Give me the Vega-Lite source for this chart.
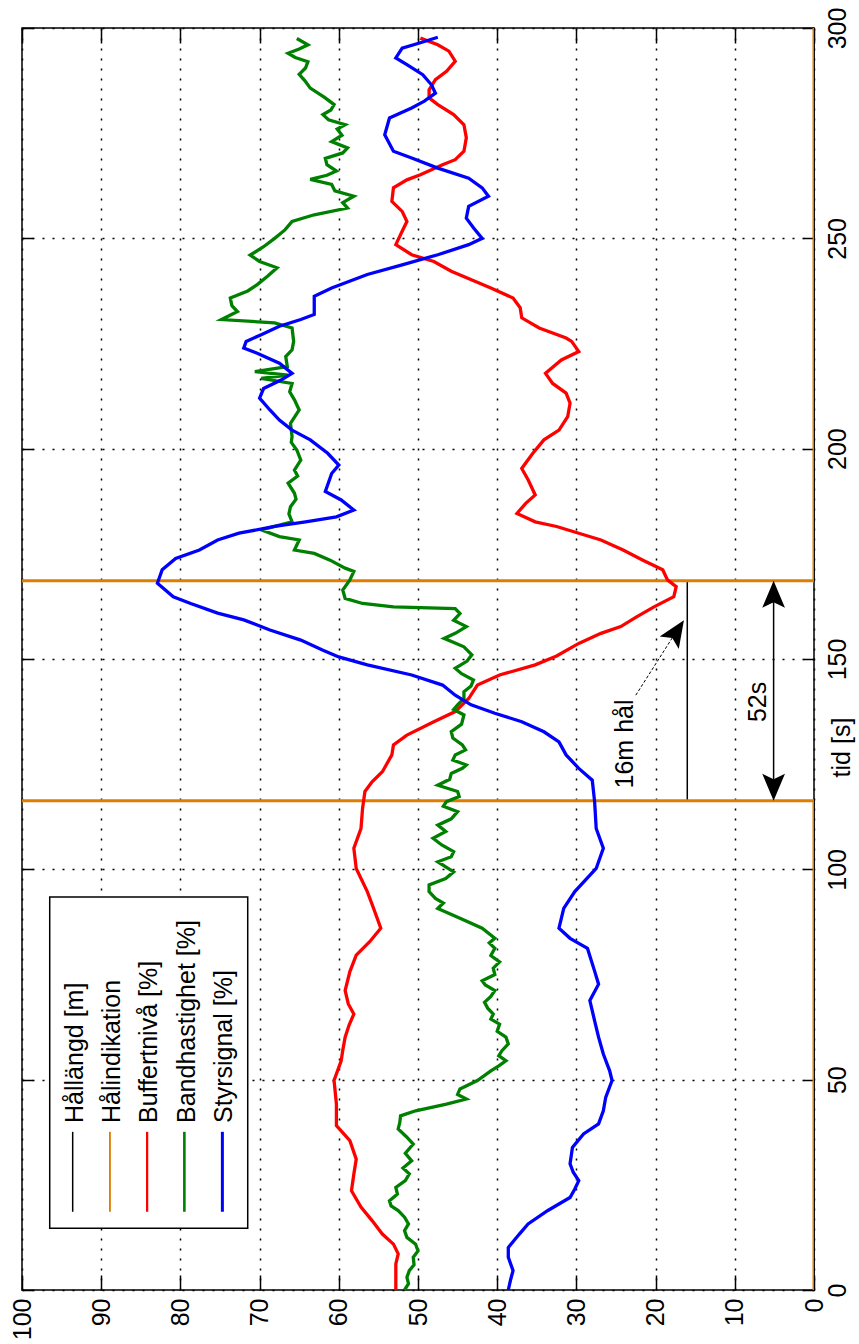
{
  "$schema": "https://vega.github.io/schema/vega-lite/v6.json",
  "width": 792,
  "height": 1262,
  "autosize": {"type": "none"},
  "padding": {"left": 22, "top": 28, "right": 45, "bottom": 54},
  "background": "white",
  "config": {
    "font": "Liberation Sans",
    "view": {"stroke": "black", "strokeWidth": 1.5},
    "axis": {
      "labelFont": "Liberation Sans",
      "labelFontSize": 25,
      "labelColor": "black",
      "tickColor": "black",
      "tickWidth": 1.5,
      "gridColor": "black",
      "gridDash": [2, 8],
      "gridWidth": 1.5,
      "gridOpacity": 1,
      "domain": false,
      "labelFlush": false,
      "labelOverlap": false
    }
  },
  "datasets": {
    "halind": [
      {"i": 0, "t": 0, "v": 0}, {"i": 1, "t": 116.3, "v": 0}, {"i": 2, "t": 116.3, "v": 103},
      {"i": 3, "t": 168.6, "v": 103}, {"i": 4, "t": 168.6, "v": 0}, {"i": 5, "t": 300, "v": 0}
    ],
    "hallangd": [
      {"i": 0, "t": 0, "v": 0}, {"i": 1, "t": 116.3, "v": 0}, {"i": 2, "t": 116.3, "v": 16},
      {"i": 3, "t": 168.6, "v": 16}, {"i": 4, "t": 168.6, "v": 0}, {"i": 5, "t": 300, "v": 0}
    ],
    "red": [
      {"t": 0, "v": 52.8}, {"t": 3, "v": 52.8}, {"t": 6.2, "v": 52.8}, {"t": 8.6, "v": 52.5}, {"t": 10.9, "v": 53.1},
      {"t": 13.3, "v": 54.5}, {"t": 16.5, "v": 55.8}, {"t": 19.7, "v": 57.2}, {"t": 23.6, "v": 58.4}, {"t": 27.6, "v": 58.1},
      {"t": 31.1, "v": 57.8}, {"t": 35.5, "v": 58.6}, {"t": 39.1, "v": 60.3}, {"t": 44.2, "v": 60.3}, {"t": 49.8, "v": 60.6},
      {"t": 54.5, "v": 59.7}, {"t": 57, "v": 59.5}, {"t": 60.1, "v": 59.2}, {"t": 63, "v": 58.7}, {"t": 65.6, "v": 58.1},
      {"t": 68, "v": 58.8}, {"t": 71.2, "v": 59.2}, {"t": 75.7, "v": 58.6}, {"t": 79.6, "v": 57.8}, {"t": 82.8, "v": 56.1},
      {"t": 86, "v": 54.7}, {"t": 90.7, "v": 55.6}, {"t": 94.7, "v": 56.4}, {"t": 100.2, "v": 57.8}, {"t": 105, "v": 58.1},
      {"t": 109.7, "v": 57.2}, {"t": 114.5, "v": 57}, {"t": 118.5, "v": 56.7}, {"t": 120.8, "v": 55.8}, {"t": 123.2, "v": 54.5},
      {"t": 127.2, "v": 53.3}, {"t": 129.6, "v": 53.1}, {"t": 131.9, "v": 51.4}, {"t": 135.1, "v": 48}, {"t": 137.5, "v": 45.3},
      {"t": 140.6, "v": 43.6}, {"t": 143.8, "v": 42.5}, {"t": 146.2, "v": 39.7}, {"t": 148.6, "v": 35.2}, {"t": 150.7, "v": 32.5},
      {"t": 153.7, "v": 29.7}, {"t": 156.1, "v": 26.9}, {"t": 157.7, "v": 24.4}, {"t": 160, "v": 22.4}, {"t": 162.4, "v": 20.2},
      {"t": 164.8, "v": 17.7}, {"t": 167.2, "v": 17.4}, {"t": 168.8, "v": 18.5}, {"t": 171.2, "v": 19.1}, {"t": 173.5, "v": 21.6},
      {"t": 175.9, "v": 24.1}, {"t": 178.3, "v": 26.9}, {"t": 179.9, "v": 29.7}, {"t": 181.5, "v": 32.5}, {"t": 182.6, "v": 35.2},
      {"t": 184.6, "v": 37.5}, {"t": 187, "v": 36.4}, {"t": 189, "v": 35.2}, {"t": 192.6, "v": 36.1}, {"t": 195.3, "v": 36.9},
      {"t": 198.9, "v": 35.5}, {"t": 202.1, "v": 34.1}, {"t": 204.4, "v": 32.2}, {"t": 207.6, "v": 31.1}, {"t": 210.8, "v": 30.8},
      {"t": 213.2, "v": 31.3}, {"t": 215.5, "v": 33}, {"t": 217.9, "v": 33.9}, {"t": 221.1, "v": 31.9}, {"t": 223.1, "v": 29.7},
      {"t": 225.5, "v": 30.6}, {"t": 226.3, "v": 31.3}, {"t": 228.7, "v": 34.7}, {"t": 231.1, "v": 36.9}, {"t": 233.5, "v": 37.1},
      {"t": 235.8, "v": 38}, {"t": 238.2, "v": 40.8}, {"t": 242.2, "v": 45.8}, {"t": 244.5, "v": 48}, {"t": 246.1, "v": 50.8},
      {"t": 248.5, "v": 52.8}, {"t": 251.7, "v": 52}, {"t": 254, "v": 51.4}, {"t": 256.4, "v": 52}, {"t": 258.8, "v": 53.3},
      {"t": 262, "v": 53.1}, {"t": 263.9, "v": 51.4}, {"t": 265.1, "v": 49.7}, {"t": 267.5, "v": 46.9}, {"t": 268.7, "v": 45.3},
      {"t": 270.7, "v": 44.2}, {"t": 273.9, "v": 43.9}, {"t": 277, "v": 44.2}, {"t": 279.4, "v": 45.5}, {"t": 281.8, "v": 47.5},
      {"t": 283.4, "v": 48.6}, {"t": 285.3, "v": 48.6}, {"t": 287.7, "v": 47.8}, {"t": 289.7, "v": 46.4}, {"t": 292.1, "v": 45.3},
      {"t": 294.5, "v": 46.1}, {"t": 296, "v": 47.5}, {"t": 297.6, "v": 49.7}
    ],
    "green": [
      {"t": 0, "v": 51.7}, {"t": 1.5, "v": 51.2}, {"t": 3, "v": 51.4}, {"t": 4.6, "v": 51.1}, {"t": 6, "v": 50.5},
      {"t": 7.8, "v": 50.6}, {"t": 9.3, "v": 50}, {"t": 10.9, "v": 50.3}, {"t": 12.5, "v": 51.4}, {"t": 14.1, "v": 51.7},
      {"t": 15.7, "v": 51.2}, {"t": 17.3, "v": 51.7}, {"t": 18.9, "v": 52.5}, {"t": 20, "v": 53.4}, {"t": 21.2, "v": 53.6},
      {"t": 22.8, "v": 52.6}, {"t": 24.4, "v": 52.8}, {"t": 26, "v": 51.6}, {"t": 27.6, "v": 51.1}, {"t": 29, "v": 51.9},
      {"t": 30.7, "v": 50.8}, {"t": 32.5, "v": 51.6}, {"t": 34.7, "v": 50.6}, {"t": 36.5, "v": 51.5}, {"t": 38.3, "v": 52.5},
      {"t": 39.8, "v": 52.3}, {"t": 41.4, "v": 52.2}, {"t": 42.6, "v": 50.3}, {"t": 44.2, "v": 46.4}, {"t": 45.4, "v": 43.9},
      {"t": 46.5, "v": 45}, {"t": 47.8, "v": 44.7}, {"t": 49.8, "v": 42.5}, {"t": 52.1, "v": 40.8}, {"t": 53.3, "v": 39.8},
      {"t": 54.5, "v": 38.9}, {"t": 55.7, "v": 39.8}, {"t": 56.9, "v": 39.4}, {"t": 58.5, "v": 38.6}, {"t": 60.1, "v": 38.9},
      {"t": 61.5, "v": 40}, {"t": 63.2, "v": 39.7}, {"t": 64.4, "v": 40.8}, {"t": 65.6, "v": 40.5}, {"t": 67, "v": 41.2},
      {"t": 68.4, "v": 41.6}, {"t": 69.8, "v": 40.8}, {"t": 71.2, "v": 40.3}, {"t": 72.5, "v": 41.5}, {"t": 73.5, "v": 41.9},
      {"t": 75, "v": 40.3}, {"t": 76.5, "v": 40.5}, {"t": 78, "v": 39.7}, {"t": 79.5, "v": 40.8}, {"t": 81.2, "v": 40.3},
      {"t": 82.5, "v": 41}, {"t": 83.6, "v": 40.3}, {"t": 86, "v": 41.9}, {"t": 88.4, "v": 44.7}, {"t": 90.7, "v": 47.5},
      {"t": 92, "v": 46.8}, {"t": 93.1, "v": 47.8}, {"t": 94.7, "v": 48.6}, {"t": 96.3, "v": 48.6}, {"t": 97.8, "v": 46.5},
      {"t": 99.4, "v": 45.5}, {"t": 100.6, "v": 46.5}, {"t": 101.8, "v": 47.5}, {"t": 103, "v": 45.8}, {"t": 104.2, "v": 45.5},
      {"t": 105.8, "v": 47}, {"t": 107.4, "v": 48.1}, {"t": 109, "v": 46.5}, {"t": 110.5, "v": 47.5}, {"t": 112, "v": 45.8},
      {"t": 113.7, "v": 45}, {"t": 115, "v": 46.8}, {"t": 116.1, "v": 46.4}, {"t": 117.3, "v": 44.8}, {"t": 118.5, "v": 45},
      {"t": 120, "v": 47.5}, {"t": 121.4, "v": 46}, {"t": 122.8, "v": 45.8}, {"t": 124, "v": 44.4}, {"t": 124.8, "v": 43.9},
      {"t": 126, "v": 45.6}, {"t": 127.2, "v": 45.3}, {"t": 128.4, "v": 44}, {"t": 129.6, "v": 44.4}, {"t": 131.2, "v": 45.6},
      {"t": 132.7, "v": 45.8}, {"t": 134.5, "v": 44.5}, {"t": 136.7, "v": 44.2}, {"t": 138, "v": 45.5}, {"t": 139.1, "v": 45},
      {"t": 140.6, "v": 44.2}, {"t": 142.2, "v": 44.2}, {"t": 143.6, "v": 43.3}, {"t": 145, "v": 43}, {"t": 146.5, "v": 44.5},
      {"t": 147.8, "v": 45.3}, {"t": 149.5, "v": 43.8}, {"t": 151, "v": 43.2}, {"t": 152.9, "v": 44.2}, {"t": 154.9, "v": 46.7},
      {"t": 156.1, "v": 45.3}, {"t": 157.7, "v": 43.9}, {"t": 159.2, "v": 45.5}, {"t": 160.8, "v": 44.7}, {"t": 162, "v": 45.3},
      {"t": 162.4, "v": 53.1}, {"t": 163.2, "v": 57}, {"t": 164.4, "v": 59.2}, {"t": 166.4, "v": 59.5}, {"t": 168.8, "v": 58.6},
      {"t": 170.8, "v": 58.1}, {"t": 171.6, "v": 59.2}, {"t": 173.5, "v": 61.1}, {"t": 175.1, "v": 63.1}, {"t": 175.9, "v": 65.6},
      {"t": 178.3, "v": 65}, {"t": 179.1, "v": 67.5}, {"t": 180.7, "v": 69.8}, {"t": 182.6, "v": 65.9}, {"t": 184.5, "v": 66.3},
      {"t": 186.2, "v": 66.1}, {"t": 188, "v": 65.4}, {"t": 189.4, "v": 65.6}, {"t": 191.8, "v": 66.4}, {"t": 193.5, "v": 65.2},
      {"t": 194.9, "v": 65.6}, {"t": 197.3, "v": 64.8}, {"t": 199.7, "v": 65.3}, {"t": 201.5, "v": 66}, {"t": 202.9, "v": 65.9},
      {"t": 206, "v": 66.1}, {"t": 209.2, "v": 65}, {"t": 211.6, "v": 65.6}, {"t": 213.5, "v": 66.2}, {"t": 215.5, "v": 65.9},
      {"t": 216.7, "v": 69.8}, {"t": 217.5, "v": 66.4}, {"t": 218.3, "v": 70.6}, {"t": 219.5, "v": 66.5}, {"t": 221.9, "v": 66.7},
      {"t": 223.5, "v": 65.9}, {"t": 225.5, "v": 65.7}, {"t": 228.7, "v": 65.9}, {"t": 229.9, "v": 68.1}, {"t": 230.7, "v": 74.8},
      {"t": 232.6, "v": 72.8}, {"t": 234, "v": 73.5}, {"t": 235.8, "v": 73.7}, {"t": 237.5, "v": 71.5}, {"t": 239, "v": 70.3},
      {"t": 241, "v": 69}, {"t": 243, "v": 67.8}, {"t": 244.5, "v": 70}, {"t": 246, "v": 71.2}, {"t": 248, "v": 69.5},
      {"t": 250, "v": 68.1}, {"t": 252, "v": 66.8}, {"t": 254, "v": 65.9}, {"t": 255.6, "v": 63.1}, {"t": 257.2, "v": 58.9},
      {"t": 258.5, "v": 59.5}, {"t": 260, "v": 58.1}, {"t": 261.3, "v": 60.5}, {"t": 262.8, "v": 60.9}, {"t": 264, "v": 63.6},
      {"t": 265, "v": 61.5}, {"t": 266, "v": 60.3}, {"t": 267.5, "v": 61.5}, {"t": 269, "v": 61.7}, {"t": 270.3, "v": 59.5},
      {"t": 271.5, "v": 58.9}, {"t": 273, "v": 60.9}, {"t": 274.5, "v": 59.6}, {"t": 276, "v": 60.2}, {"t": 277, "v": 59.2},
      {"t": 278.2, "v": 61.3}, {"t": 279.4, "v": 62}, {"t": 280.5, "v": 61}, {"t": 281.8, "v": 60.6}, {"t": 283.5, "v": 61.8},
      {"t": 285.7, "v": 63.6}, {"t": 287.5, "v": 64.3}, {"t": 289, "v": 65}, {"t": 290.5, "v": 64.2}, {"t": 292, "v": 63.9},
      {"t": 293, "v": 65.5}, {"t": 294, "v": 66.4}, {"t": 295, "v": 65}, {"t": 296, "v": 63.9}, {"t": 297.5, "v": 65.3}
    ],
    "blue": [
      {"t": 0, "v": 38.6}, {"t": 2.5, "v": 38.3}, {"t": 4.6, "v": 38}, {"t": 7.8, "v": 38.6}, {"t": 10.1, "v": 38.6},
      {"t": 13.3, "v": 37.2}, {"t": 15.7, "v": 36.1}, {"t": 18.9, "v": 33.6}, {"t": 22, "v": 30.8}, {"t": 24, "v": 30.2},
      {"t": 26, "v": 29.7}, {"t": 28, "v": 30.4}, {"t": 30, "v": 30.8}, {"t": 33.9, "v": 30.5}, {"t": 37.1, "v": 29.1},
      {"t": 39.5, "v": 27.2}, {"t": 42.6, "v": 26.6}, {"t": 45.8, "v": 26.3}, {"t": 49.8, "v": 25.5}, {"t": 52.1, "v": 25.8},
      {"t": 56.1, "v": 26.6}, {"t": 60.1, "v": 27.2}, {"t": 64, "v": 27.7}, {"t": 68.8, "v": 28.3}, {"t": 72.7, "v": 27.2},
      {"t": 75.8, "v": 27.7}, {"t": 81.2, "v": 28.6}, {"t": 83.6, "v": 30.8}, {"t": 86, "v": 32.2}, {"t": 90.7, "v": 31.6},
      {"t": 94.7, "v": 30.2}, {"t": 100.2, "v": 27.5}, {"t": 105, "v": 26.6}, {"t": 109.7, "v": 27.5}, {"t": 116.1, "v": 27.7},
      {"t": 121.2, "v": 28}, {"t": 124, "v": 29.7}, {"t": 127.2, "v": 31.3}, {"t": 130.3, "v": 32.2}, {"t": 132.7, "v": 34.1},
      {"t": 135.1, "v": 36.9}, {"t": 137.1, "v": 40.3}, {"t": 139.1, "v": 43.3}, {"t": 141.4, "v": 45.3}, {"t": 143.8, "v": 46.9},
      {"t": 146.2, "v": 50.8}, {"t": 148.6, "v": 56.4}, {"t": 150.5, "v": 60}, {"t": 152.1, "v": 62}, {"t": 154.5, "v": 64.8},
      {"t": 156.9, "v": 68.7}, {"t": 159.3, "v": 72}, {"t": 160.9, "v": 75.3}, {"t": 163.2, "v": 78.7}, {"t": 164.8, "v": 80.9},
      {"t": 168, "v": 82.9}, {"t": 171.2, "v": 82.3}, {"t": 173.9, "v": 80.6}, {"t": 175.9, "v": 77.6}, {"t": 178.3, "v": 75.3},
      {"t": 179.9, "v": 72.6}, {"t": 181.5, "v": 68.1}, {"t": 182.6, "v": 64.2}, {"t": 183.8, "v": 60.3}, {"t": 185.4, "v": 58.1},
      {"t": 187.8, "v": 59.7}, {"t": 189.8, "v": 61.7}, {"t": 194.1, "v": 60.9}, {"t": 196.1, "v": 60}, {"t": 198.9, "v": 61.4},
      {"t": 202.1, "v": 63.6}, {"t": 204.4, "v": 65.9}, {"t": 206.8, "v": 67.5}, {"t": 209.2, "v": 68.7}, {"t": 212, "v": 70},
      {"t": 214.3, "v": 69.5}, {"t": 216.3, "v": 67.3}, {"t": 217.9, "v": 65.9}, {"t": 220.3, "v": 67.5}, {"t": 222.7, "v": 70.3},
      {"t": 223.9, "v": 72}, {"t": 225.5, "v": 71.7}, {"t": 227.1, "v": 69.8}, {"t": 229.1, "v": 67.5}, {"t": 230.7, "v": 64.8},
      {"t": 231.9, "v": 63.1}, {"t": 236.2, "v": 63.1}, {"t": 238.2, "v": 60.9}, {"t": 241.4, "v": 56.4}, {"t": 243.7, "v": 52},
      {"t": 246.1, "v": 47.5}, {"t": 248.5, "v": 43.6}, {"t": 250, "v": 41.9}, {"t": 252.5, "v": 43}, {"t": 254.8, "v": 43.9},
      {"t": 257.6, "v": 43.6}, {"t": 260, "v": 41.1}, {"t": 262, "v": 41.9}, {"t": 264.3, "v": 43.6}, {"t": 266.7, "v": 47.5},
      {"t": 269.1, "v": 50.8}, {"t": 270.7, "v": 53.1}, {"t": 274.6, "v": 54.2}, {"t": 278.6, "v": 53.6}, {"t": 281, "v": 50.8},
      {"t": 282.6, "v": 49.2}, {"t": 284.5, "v": 47.8}, {"t": 286.5, "v": 48.3}, {"t": 288.9, "v": 49.4}, {"t": 291.3, "v": 51.4},
      {"t": 292.9, "v": 52.8}, {"t": 295.2, "v": 52}, {"t": 296.5, "v": 49.7}, {"t": 297.8, "v": 47.5}
    ],
    "legend": [
      {"k": "Hållängd [m]", "v": 93.6, "vb": 92.3},
      {"k": "Hålindikation", "v": 88.9, "vb": 87.6},
      {"k": "Buffertnivå [%]", "v": 84.2, "vb": 82.9},
      {"k": "Bandhastighet [%]", "v": 79.5, "vb": 78.2},
      {"k": "Styrsignal [%]", "v": 74.7, "vb": 73.5}
    ],
    "notes": [
      {"label": "16m hål", "v": 22.85, "t": 129.8},
      {"label": "52s", "v": 6.06, "t": 139.8}
    ]
  },
  "layer": [
    {
      "data": {"name": "hallangd"},
      "mark": {"type": "line", "color": "black", "strokeWidth": 1.5},
      "encoding": {
        "x": {"field": "v", "type": "quantitative", "scale": {"domain": [0, 100], "reverse": true}, "axis": null},
        "y": {"field": "t", "type": "quantitative", "scale": {"domain": [0, 300]}, "axis": null},
        "order": {"field": "i"}
      }
    },
    {
      "data": {"name": "halind"},
      "mark": {"type": "line", "color": "#DE7D00", "strokeWidth": 3, "clip": true},
      "encoding": {
        "x": {"field": "v", "type": "quantitative", "scale": {"domain": [0, 100], "reverse": true}, "axis": null},
        "y": {"field": "t", "type": "quantitative", "scale": {"domain": [0, 300]}, "axis": null},
        "order": {"field": "i"}
      }
    },
    {
      "data": {"name": "red"},
      "mark": {"type": "line", "color": "#FF0000", "strokeWidth": 3.3},
      "encoding": {
        "x": {"field": "v", "type": "quantitative", "scale": {"domain": [0, 100], "reverse": true},
          "axis": {"orient": "bottom", "values": [0, 10, 20, 30, 40, 50, 60, 70, 80, 90, 100], "labelAngle": 270,
            "labelAlign": "right", "labelBaseline": "middle", "tickSize": -15, "labelPadding": 23, "grid": true, "title": null}},
        "y": {"field": "t", "type": "quantitative", "scale": {"domain": [0, 300]},
          "axis": {"orient": "right", "values": [0, 50, 100, 150, 200, 250, 300], "labelAngle": 270,
            "labelAlign": "center", "labelBaseline": "top", "tickSize": -11, "labelPadding": 22, "grid": true,
            "title": "tid [s]", "titleAngle": 270, "titleX": 35, "titleY": 719, "titleAlign": "center",
            "titleBaseline": "alphabetic", "titleFontSize": 25, "titleFontWeight": "normal", "titleColor": "black",
            "titleFont": "Liberation Sans"}},
        "order": {"field": "t"}
      }
    },
    {
      "data": {"name": "green"},
      "mark": {"type": "line", "color": "#008000", "strokeWidth": 3.3},
      "encoding": {
        "x": {"field": "v", "type": "quantitative", "scale": {"domain": [0, 100], "reverse": true}, "axis": null},
        "y": {"field": "t", "type": "quantitative", "scale": {"domain": [0, 300]}, "axis": null},
        "order": {"field": "t"}
      }
    },
    {
      "data": {"name": "blue"},
      "mark": {"type": "line", "color": "#0000FF", "strokeWidth": 3.3},
      "encoding": {
        "x": {"field": "v", "type": "quantitative", "scale": {"domain": [0, 100], "reverse": true},
          "axis": {"orient": "top", "values": [0, 10, 20, 30, 40, 50, 60, 70, 80, 90, 100], "labels": false,
            "grid": false, "tickSize": -15, "title": null}},
        "y": {"field": "t", "type": "quantitative", "scale": {"domain": [0, 300]},
          "axis": {"orient": "left", "values": [0, 50, 100, 150, 200, 250, 300], "labels": false,
            "grid": false, "tickSize": -11, "title": null}},
        "order": {"field": "t"}
      }
    },
    {
      "data": {"values": [{}]},
      "mark": {"type": "rect", "fill": "white", "stroke": "black", "strokeWidth": 1.5},
      "encoding": {
        "x": {"datum": 96.5, "type": "quantitative", "scale": {"domain": [0, 100], "reverse": true}, "axis": null},
        "x2": {"datum": 71.5},
        "y": {"datum": 93.4, "type": "quantitative", "scale": {"domain": [0, 300]}, "axis": null},
        "y2": {"datum": 14.7}
      }
    },
    {
      "data": {"name": "legend"},
      "mark": {"type": "rule"},
      "encoding": {
        "x": {"field": "v", "type": "quantitative", "scale": {"domain": [0, 100], "reverse": true}, "axis": null},
        "y": {"datum": 37.6, "type": "quantitative", "scale": {"domain": [0, 300]}, "axis": null},
        "y2": {"datum": 18.6},
        "color": {"field": "k", "type": "nominal",
          "scale": {"domain": ["Hållängd [m]", "Hålindikation", "Buffertnivå [%]", "Bandhastighet [%]", "Styrsignal [%]"],
            "range": ["black", "#DE7D00", "#FF0000", "#008000", "#0000FF"]}, "legend": null},
        "strokeWidth": {"field": "k", "type": "nominal",
          "scale": {"domain": ["Hållängd [m]", "Hålindikation", "Buffertnivå [%]", "Bandhastighet [%]", "Styrsignal [%]"],
            "range": [1.5, 3, 3.3, 3.3, 3.3]}, "legend": null}
      }
    },
    {
      "data": {"name": "legend"},
      "mark": {"type": "text", "angle": 270, "align": "left", "baseline": "alphabetic", "fontSize": 25, "color": "black"},
      "encoding": {
        "x": {"field": "vb", "type": "quantitative", "scale": {"domain": [0, 100], "reverse": true}, "axis": null},
        "y": {"datum": 39.7, "type": "quantitative", "scale": {"domain": [0, 300]}, "axis": null},
        "text": {"field": "k"}
      }
    },
    {
      "data": {"name": "notes"},
      "mark": {"type": "text", "angle": 270, "align": "center", "baseline": "alphabetic", "fontSize": 25, "color": "black"},
      "encoding": {
        "x": {"field": "v", "type": "quantitative", "scale": {"domain": [0, 100], "reverse": true}, "axis": null},
        "y": {"field": "t", "type": "quantitative", "scale": {"domain": [0, 300]}, "axis": null},
        "text": {"field": "label"}
      }
    },
    {
      "data": {"values": [{}]},
      "mark": {"type": "rule", "color": "black", "strokeWidth": 1.5},
      "encoding": {
        "x": {"datum": 5.1, "type": "quantitative", "scale": {"domain": [0, 100], "reverse": true}, "axis": null},
        "y": {"datum": 118.5, "type": "quantitative", "scale": {"domain": [0, 300]}, "axis": null},
        "y2": {"datum": 166.4}
      }
    },
    {
      "data": {"values": [{}]},
      "mark": {"type": "rule", "color": "black", "strokeWidth": 1, "strokeDash": [3, 2]},
      "encoding": {
        "x": {"datum": 22.5, "type": "quantitative", "scale": {"domain": [0, 100], "reverse": true}, "axis": null},
        "x2": {"datum": 17.6},
        "y": {"datum": 141.4, "type": "quantitative", "scale": {"domain": [0, 300]}, "axis": null},
        "y2": {"datum": 155.9}
      }
    },
    {
      "data": {"values": [{}]},
      "mark": {"type": "point", "shape": "M0,-1L0.8,0.9L0,0.5L-0.8,0.9Z", "filled": true, "color": "black", "opacity": 1, "size": 807, "angle": 0},
      "encoding": {
        "x": {"datum": 5.1, "type": "quantitative", "scale": {"domain": [0, 100], "reverse": true}, "axis": null},
        "y": {"datum": 165.2, "type": "quantitative", "scale": {"domain": [0, 300]}, "axis": null}
      }
    },
    {
      "data": {"values": [{}]},
      "mark": {"type": "point", "shape": "M0,-1L0.8,0.9L0,0.5L-0.8,0.9Z", "filled": true, "color": "black", "opacity": 1, "size": 807, "angle": 180},
      "encoding": {
        "x": {"datum": 5.1, "type": "quantitative", "scale": {"domain": [0, 100], "reverse": true}, "axis": null},
        "y": {"datum": 119.7, "type": "quantitative", "scale": {"domain": [0, 300]}, "axis": null}
      }
    },
    {
      "data": {"values": [{}]},
      "mark": {"type": "point", "shape": "M0,-1L0.8,0.9L0,0.5L-0.8,0.9Z", "filled": true, "color": "black", "opacity": 1, "size": 807, "angle": 33},
      "encoding": {
        "x": {"datum": 17.4, "type": "quantitative", "scale": {"domain": [0, 100], "reverse": true}, "axis": null},
        "y": {"datum": 156.4, "type": "quantitative", "scale": {"domain": [0, 300]}, "axis": null}
      }
    }
  ],
  "resolve": {"axis": {"x": "independent", "y": "independent"}}
}
